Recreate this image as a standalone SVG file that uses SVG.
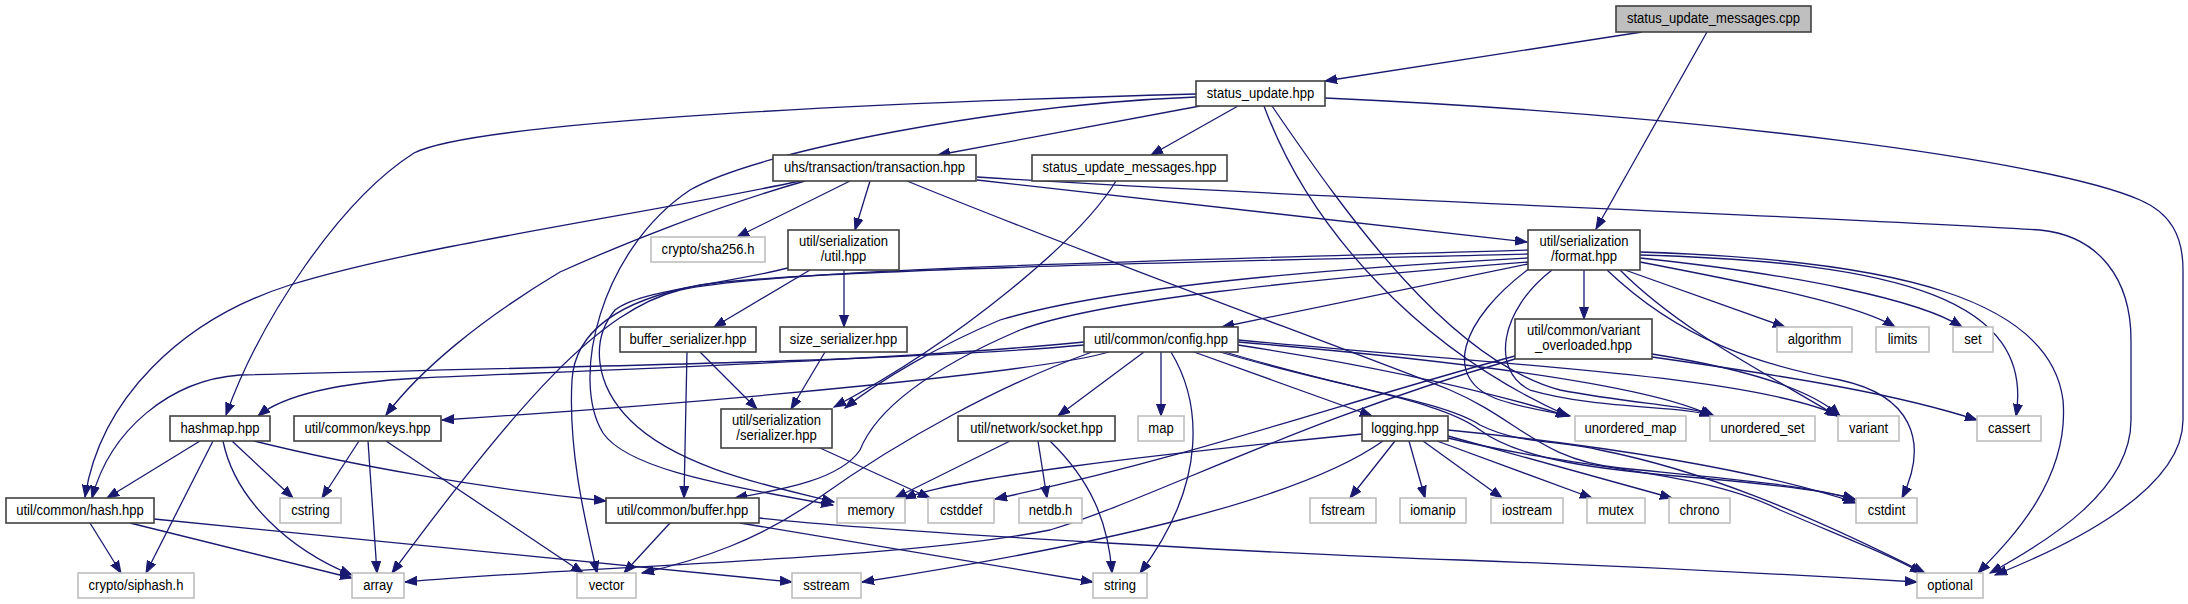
<svg xmlns="http://www.w3.org/2000/svg" width="2188" height="604" viewBox="0 0 2188 604">
<style>
.e{fill:none;stroke:#191970;stroke-width:1.3;marker-end:url(#ah)}
.n rect{fill:#ffffff;stroke:#404040;stroke-width:1.6}
.x rect{fill:#ffffff;stroke:#bfbfbf;stroke-width:1.6}
.r rect{fill:#bfbfbf;stroke:#404040;stroke-width:1.6}
text{font-family:"Liberation Sans",Arial,Helvetica,sans-serif;font-size:14.5px;fill:#000;text-anchor:middle}
</style>
<defs>
<marker id="ah" markerUnits="userSpaceOnUse" markerWidth="13" markerHeight="10" refX="12" refY="5" orient="auto">
<path d="M0,0.5 L12,5 L0,9.5 Z" fill="#191970" stroke="#191970" stroke-width="1"/>
</marker>
</defs>
<rect width="2188" height="604" fill="#ffffff"/>
<g id="connectors">
<path class="e" d="M1642,32 L1325,81"/>
<path class="e" d="M1707,32 L1596,229"/>
<path class="e" d="M1200,106 L938,155"/>
<path class="e" d="M1238,106 L1151,155"/>
<path class="e" d="M1196,94 C900,102 480,120 414,153 C340,200 260,320 226,415"/>
<path class="e" d="M1196,97 C1000,105 760,150 690,190 C600,250 570,380 603,433 C625,465 700,482 833,505"/>
<path class="e" d="M1264,106 C1310,230 1420,350 1568,416"/>
<path class="e" d="M1272,106 C1350,220 1450,360 1560,390 C1640,405 1690,405 1714,416"/>
<path class="e" d="M1325,98 C1700,115 2050,160 2140,200 C2170,213 2183,235 2183,270 L2183,420 C2183,490 2070,545 1995,575"/>
<path class="e" d="M850,181 L737,237"/>
<path class="e" d="M870,181 L855,230"/>
<path class="e" d="M800,181 C640,215 420,245 290,285 C180,320 100,400 85,497"/>
<path class="e" d="M805,181 C720,205 620,245 560,272 C480,320 420,370 386,415"/>
<path class="e" d="M907,181 C1100,260 1350,350 1450,390 C1520,420 1540,460 1620,468 C1720,478 1810,485 1855,500"/>
<path class="e" d="M977,180 L1527,242"/>
<path class="e" d="M977,177 C1300,198 1800,215 2040,230 C2100,236 2131,280 2131,340 L2131,420 C2131,490 2050,540 1990,573"/>
<path class="e" d="M1116,181 C1080,240 960,340 834,407"/>
<path class="e" d="M810,270 L714,327"/>
<path class="e" d="M844,270 L844,327"/>
<path class="e" d="M788,268 C720,285 640,290 615,310 C590,340 595,385 630,420 C680,470 780,488 834,502"/>
<path class="e" d="M687,352 L684,498"/>
<path class="e" d="M700,352 L757,409"/>
<path class="e" d="M825,352 L791,409"/>
<path class="e" d="M820,448 L930,498"/>
<path class="e" d="M1584,270 L1584,319"/>
<path class="e" d="M1528,264 L1222,327"/>
<path class="e" d="M1528,258 C1300,270 1100,290 1000,320 C940,345 880,380 845,408"/>
<path class="e" d="M1528,262 C1300,280 1100,300 1020,330 C950,360 880,400 860,450 C840,480 780,490 735,498"/>
<path class="e" d="M1528,250 C1200,260 780,268 680,290 C600,310 520,400 392,573"/>
<path class="e" d="M1528,254 C1200,262 800,270 700,285 C620,300 575,330 572,380 C568,450 585,520 597,573"/>
<path class="e" d="M1530,268 C1460,320 1440,380 1500,400 C1530,410 1555,412 1570,416"/>
<path class="e" d="M1552,270 C1500,310 1490,370 1530,390 C1600,410 1680,405 1712,416"/>
<path class="e" d="M1620,270 C1680,330 1760,370 1837,416"/>
<path class="e" d="M1625,270 L1785,327"/>
<path class="e" d="M1640,262 C1760,285 1860,305 1895,327"/>
<path class="e" d="M1640,258 C1800,275 1920,300 1962,327"/>
<path class="e" d="M1640,255 C1900,262 2035,300 2016,416"/>
<path class="e" d="M1607,270 C1680,340 1760,365 1840,380 C1910,395 1930,440 1902,498"/>
<path class="e" d="M1640,252 C1900,260 2050,300 2063,400 C2070,480 2010,540 1978,573"/>
<path class="e" d="M1652,354 C1740,368 1810,388 1840,416"/>
<path class="e" d="M1652,357 C1800,378 1900,395 1977,420"/>
<path class="e" d="M1515,356 C1350,400 1200,455 995,499"/>
<path class="e" d="M1515,359 C1300,420 1150,500 1050,530 C900,560 600,565 405,582"/>
<path class="e" d="M1084,342 C900,360 600,370 420,378 C330,383 280,398 258,416"/>
<path class="e" d="M1084,345 C900,362 500,368 240,375 C170,380 110,430 92,498"/>
<path class="e" d="M1109,352 C1050,370 750,400 442,420"/>
<path class="e" d="M1144,352 L1058,416"/>
<path class="e" d="M1161,352 L1161,416"/>
<path class="e" d="M1171,352 C1200,400 1210,480 1140,573"/>
<path class="e" d="M1194,352 L1372,416"/>
<path class="e" d="M1092,352 C1000,385 900,440 820,497 C760,540 700,560 642,573"/>
<path class="e" d="M1238,345 C1400,370 1500,395 1568,416"/>
<path class="e" d="M1238,342 C1450,360 1650,385 1712,416"/>
<path class="e" d="M1238,340 C1500,365 1750,375 1840,416"/>
<path class="e" d="M1225,352 C1350,390 1440,400 1480,430 C1520,460 1600,470 1700,478 C1780,485 1830,492 1855,499"/>
<path class="e" d="M1220,352 C1350,390 1440,400 1480,425 C1520,445 1560,440 1600,450 C1700,470 1800,510 1925,573"/>
<path class="e" d="M1010,441 L895,498"/>
<path class="e" d="M1038,441 L1047,498"/>
<path class="e" d="M1050,441 C1090,480 1108,520 1112,573"/>
<path class="e" d="M1362,434 C1150,455 950,478 904,499"/>
<path class="e" d="M1383,441 C1300,500 1100,545 862,582"/>
<path class="e" d="M1395,441 L1350,498"/>
<path class="e" d="M1409,441 L1425,498"/>
<path class="e" d="M1423,441 L1502,498"/>
<path class="e" d="M1437,441 L1592,498"/>
<path class="e" d="M1448,436 L1672,498"/>
<path class="e" d="M1448,430 C1600,445 1760,470 1856,503"/>
<path class="e" d="M1448,438 C1580,470 1700,470 1780,510 C1850,540 1890,555 1922,573"/>
<path class="e" d="M200,441 L107,498"/>
<path class="e" d="M213,441 L146,573"/>
<path class="e" d="M223,441 C235,500 290,550 352,575"/>
<path class="e" d="M232,441 L293,498"/>
<path class="e" d="M254,441 C350,465 480,488 606,501"/>
<path class="e" d="M359,441 L322,498"/>
<path class="e" d="M368,441 L377,573"/>
<path class="e" d="M386,441 L583,573"/>
<path class="e" d="M90,523 L121,573"/>
<path class="e" d="M130,523 L352,578"/>
<path class="e" d="M154,519 L792,582"/>
<path class="e" d="M670,523 L624,573"/>
<path class="e" d="M740,523 L1093,582"/>
<path class="e" d="M759,518 C900,533 1300,555 1460,560 C1650,567 1850,578 1917,582"/>
</g>
<g id="node-cpp" class="r"><rect x="1616" y="6" width="195" height="26"/><text transform="translate(1713.5,23) scale(0.9,1)">status_update_messages.cpp</text></g>
<g id="node-status-update" class="n"><rect x="1196" y="81" width="129" height="25"/><text transform="translate(1260.5,97.5) scale(0.9,1)">status_update.hpp</text></g>
<g id="node-transaction" class="n"><rect x="773" y="155" width="203" height="26"/><text transform="translate(874.5,172) scale(0.9,1)">uhs/transaction/transaction.hpp</text></g>
<g id="node-status-update-messages" class="n"><rect x="1032" y="155" width="195" height="26"/><text transform="translate(1129.5,172) scale(0.9,1)">status_update_messages.hpp</text></g>
<g id="node-sha256" class="x"><rect x="651" y="237" width="114" height="25"/><text transform="translate(708,253.5) scale(0.9,1)">crypto/sha256.h</text></g>
<g id="node-ser-util" class="n"><rect x="788" y="230" width="111" height="40"/><text transform="translate(843.5,245.7) scale(0.9,1)">util/serialization</text><text transform="translate(843.5,260.7) scale(0.9,1)">/util.hpp</text></g>
<g id="node-format" class="n"><rect x="1528" y="230" width="112" height="40"/><text transform="translate(1584,245.7) scale(0.9,1)">util/serialization</text><text transform="translate(1584,260.7) scale(0.9,1)">/format.hpp</text></g>
<g id="node-buffer-serializer" class="n"><rect x="620" y="327" width="136" height="25"/><text transform="translate(688,343.5) scale(0.9,1)">buffer_serializer.hpp</text></g>
<g id="node-size-serializer" class="n"><rect x="780" y="327" width="127" height="25"/><text transform="translate(843.5,343.5) scale(0.9,1)">size_serializer.hpp</text></g>
<g id="node-config" class="n"><rect x="1084" y="327" width="154" height="25"/><text transform="translate(1161,343.5) scale(0.9,1)">util/common/config.hpp</text></g>
<g id="node-variant-overloaded" class="n"><rect x="1515" y="319" width="137" height="40"/><text transform="translate(1583.5,334.7) scale(0.9,1)">util/common/variant</text><text transform="translate(1583.5,349.7) scale(0.9,1)">_overloaded.hpp</text></g>
<g id="node-algorithm" class="x"><rect x="1777" y="327" width="75" height="25"/><text transform="translate(1814.5,343.5) scale(0.9,1)">algorithm</text></g>
<g id="node-limits" class="x"><rect x="1876" y="327" width="53" height="25"/><text transform="translate(1902.5,343.5) scale(0.9,1)">limits</text></g>
<g id="node-set" class="x"><rect x="1953" y="327" width="40" height="25"/><text transform="translate(1973,343.5) scale(0.9,1)">set</text></g>
<g id="node-hashmap" class="n"><rect x="170" y="416" width="100" height="25"/><text transform="translate(220,432.5) scale(0.9,1)">hashmap.hpp</text></g>
<g id="node-keys" class="n"><rect x="294" y="416" width="147" height="25"/><text transform="translate(367.5,432.5) scale(0.9,1)">util/common/keys.hpp</text></g>
<g id="node-serializer" class="n"><rect x="721" y="409" width="111" height="39"/><text transform="translate(776.5,424.7) scale(0.9,1)">util/serialization</text><text transform="translate(776.5,439.7) scale(0.9,1)">/serializer.hpp</text></g>
<g id="node-socket" class="n"><rect x="958" y="416" width="157" height="25"/><text transform="translate(1036.5,432.5) scale(0.9,1)">util/network/socket.hpp</text></g>
<g id="node-map" class="x"><rect x="1138" y="416" width="46" height="25"/><text transform="translate(1161,432.5) scale(0.9,1)">map</text></g>
<g id="node-logging" class="n"><rect x="1362" y="416" width="86" height="25"/><text transform="translate(1405,432.5) scale(0.9,1)">logging.hpp</text></g>
<g id="node-unordered-map" class="x"><rect x="1575" y="416" width="111" height="25"/><text transform="translate(1630.5,432.5) scale(0.9,1)">unordered_map</text></g>
<g id="node-unordered-set" class="x"><rect x="1710" y="416" width="105" height="25"/><text transform="translate(1762.5,432.5) scale(0.9,1)">unordered_set</text></g>
<g id="node-variant" class="x"><rect x="1838" y="416" width="61" height="25"/><text transform="translate(1868.5,432.5) scale(0.9,1)">variant</text></g>
<g id="node-cassert" class="x"><rect x="1977" y="416" width="64" height="25"/><text transform="translate(2009,432.5) scale(0.9,1)">cassert</text></g>
<g id="node-hash" class="n"><rect x="6" y="498" width="148" height="25"/><text transform="translate(80,514.5) scale(0.9,1)">util/common/hash.hpp</text></g>
<g id="node-cstring" class="x"><rect x="280" y="498" width="61" height="25"/><text transform="translate(310.5,514.5) scale(0.9,1)">cstring</text></g>
<g id="node-buffer" class="n"><rect x="606" y="498" width="153" height="25"/><text transform="translate(682.5,514.5) scale(0.9,1)">util/common/buffer.hpp</text></g>
<g id="node-memory" class="x"><rect x="837" y="498" width="68" height="25"/><text transform="translate(871,514.5) scale(0.9,1)">memory</text></g>
<g id="node-cstddef" class="x"><rect x="928" y="498" width="66" height="25"/><text transform="translate(961,514.5) scale(0.9,1)">cstddef</text></g>
<g id="node-netdb" class="x"><rect x="1019" y="498" width="63" height="25"/><text transform="translate(1050.5,514.5) scale(0.9,1)">netdb.h</text></g>
<g id="node-fstream" class="x"><rect x="1310" y="498" width="66" height="25"/><text transform="translate(1343,514.5) scale(0.9,1)">fstream</text></g>
<g id="node-iomanip" class="x"><rect x="1400" y="498" width="66" height="25"/><text transform="translate(1433,514.5) scale(0.9,1)">iomanip</text></g>
<g id="node-iostream" class="x"><rect x="1491" y="498" width="72" height="25"/><text transform="translate(1527,514.5) scale(0.9,1)">iostream</text></g>
<g id="node-mutex" class="x"><rect x="1587" y="498" width="58" height="25"/><text transform="translate(1616,514.5) scale(0.9,1)">mutex</text></g>
<g id="node-chrono" class="x"><rect x="1669" y="498" width="61" height="25"/><text transform="translate(1699.5,514.5) scale(0.9,1)">chrono</text></g>
<g id="node-cstdint" class="x"><rect x="1856" y="498" width="61" height="25"/><text transform="translate(1886.5,514.5) scale(0.9,1)">cstdint</text></g>
<g id="node-siphash" class="x"><rect x="78" y="573" width="116" height="25"/><text transform="translate(136,589.5) scale(0.9,1)">crypto/siphash.h</text></g>
<g id="node-array" class="x"><rect x="352" y="573" width="52" height="25"/><text transform="translate(378,589.5) scale(0.9,1)">array</text></g>
<g id="node-vector" class="x"><rect x="577" y="573" width="59" height="25"/><text transform="translate(606.5,589.5) scale(0.9,1)">vector</text></g>
<g id="node-sstream" class="x"><rect x="792" y="573" width="69" height="25"/><text transform="translate(826.5,589.5) scale(0.9,1)">sstream</text></g>
<g id="node-string" class="x"><rect x="1093" y="573" width="54" height="25"/><text transform="translate(1120,589.5) scale(0.9,1)">string</text></g>
<g id="node-optional" class="x"><rect x="1917" y="573" width="66" height="25"/><text transform="translate(1950,589.5) scale(0.9,1)">optional</text></g>
</svg>
